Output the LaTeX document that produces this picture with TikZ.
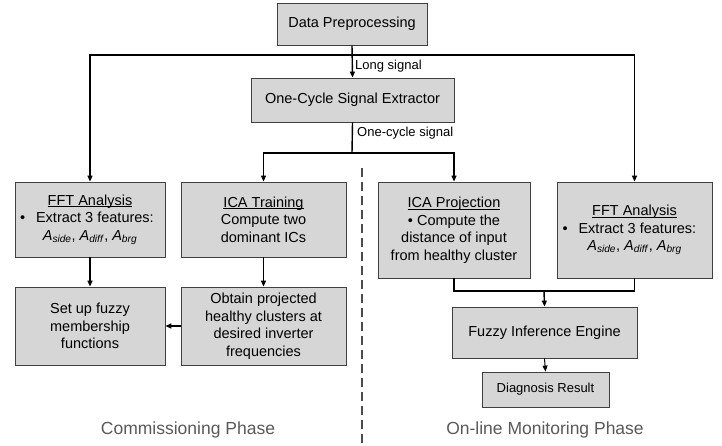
\documentclass[tikz,border=0pt]{standalone}
\usepackage{fontspec}
\setmainfont{Liberation Sans}
\usetikzlibrary{arrows.meta}
\newcommand{\myul}[1]{\setbox0\hbox{#1}\rlap{\rule[-2pt]{\wd0}{0.7pt}}\box0}
\begin{document}
\begin{tikzpicture}[x=1pt,y=-1pt,
  box/.style={draw=black!75,line width=0.8pt,fill=black!16,align=center,inner sep=2pt,font=\fontsize{14.5}{17.5}\selectfont},
  link/.style={line width=1.4pt,black},
  arr/.style={link,-{Triangle[length=6pt,width=5pt]}},
  lbl/.style={font=\fontsize{13}{15}\selectfont,inner sep=1pt},
  phase/.style={font=\fontsize{17.5}{20}\selectfont,text=black!65}]
\useasboundingbox (0,0) rectangle (722,445);
\newcommand{\feat}{\textit{A}\textsubscript{\textit{side}}, \textit{A}\textsubscript{\textit{diff}}, \textit{A}\textsubscript{\textit{brg}}}
\node[box,minimum width=150pt,minimum height=42pt] (dp) at (352,24) {Data Preprocessing};
\node[box,minimum width=203pt,minimum height=44pt] (oc) at (352.5,100) {One-Cycle Signal Extractor};
\node[box,minimum width=150pt,minimum height=75pt] (fftL) at (90,219.5) {\myul{FFT Analysis}\\ \makebox[144pt][l]{\hspace{2pt}•\hspace{11pt}Extract 3 features:}\\ \feat};
\node[box,minimum width=165pt,minimum height=75pt] (icaT) at (263.5,219.5) {\myul{ICA Training}\\Compute two\\dominant ICs};
\node[box,minimum width=150pt,minimum height=78pt] (setup) at (90,326) {Set up fuzzy\\membership\\functions};
\node[box,minimum width=165pt,minimum height=78pt] (obtain) at (263.5,326) {Obtain projected\\healthy clusters at\\desired inverter\\frequencies};
\node[box,minimum width=152pt,minimum height=96pt] (icaP) at (454,230) {\myul{ICA Projection}\\• Compute the\\distance of input\\from healthy cluster};
\node[box,minimum width=155pt,minimum height=96pt] (fftR) at (634.5,230) {\myul{FFT Analysis}\\ \makebox[148pt][l]{\hspace{2pt}•\hspace{11pt}Extract 3 features:}\\ \feat};
\node[box,minimum width=185pt,minimum height=51pt] (fie) at (544.5,332.5) {Fuzzy Inference Engine};
\node[box,minimum width=127pt,minimum height=35pt,font=\fontsize{13}{15}\selectfont] (dr) at (545.5,389.5) {Diagnosis Result};
\coordinate (hub1) at (352,55);
\coordinate (hub2) at (352,153);
\coordinate (join) at (544,291);
\coordinate (dtop) at (362,168);
\coordinate (dbot) at (362,445);
\draw[arr] (dp.south) -- (oc.north);
\draw[arr] (hub1) -| (fftL.north);
\draw[arr] (hub1) -| (fftR.north);
\draw[link] (oc.south) -- (hub2);
\draw[arr] (hub2) -| (icaT.north);
\draw[arr] (hub2) -| (icaP.north);
\node[lbl,anchor=west] (ls) at (354,66) {Long signal};
\node[lbl,anchor=west] (os) at (356,133) {One-cycle signal};
\draw[arr] (fftL.south) -- (setup.north);
\draw[arr] (icaT.south) -- (obtain.north);
\draw[arr] (obtain.west) -- (setup.east);
\draw[link] (icaP.south) |- (join);
\draw[link] (fftR.south) |- (join);
\draw[arr] (join) -- (fie.north);
\draw[arr,line width=1pt] (fie.south) -- (dr.north);
\draw[line width=2.5pt,black!70,dash pattern=on 9pt off 5pt] (dtop) -- (dbot);
\node[phase] (cp) at (188,430) {Commissioning Phase};
\node[phase] (mp) at (545,430) {On-line Monitoring Phase};
\end{tikzpicture}
\end{document}
